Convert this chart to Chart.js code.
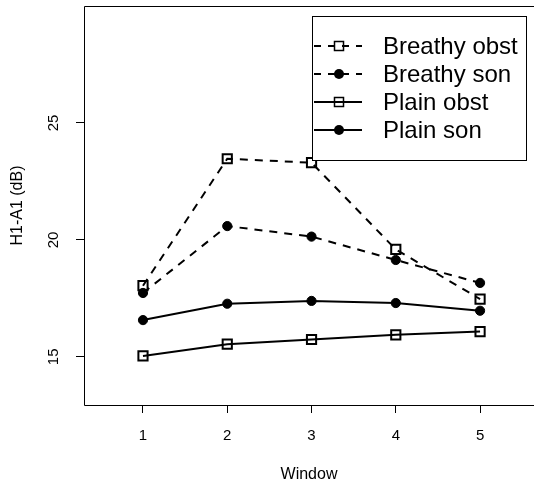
<!DOCTYPE html>
<html>
<head>
<meta charset="utf-8">
<script src="https://cdn.jsdelivr.net/npm/chart.js@4/dist/chart.umd.min.js"></script>
<style>
  html, body { margin: 0; padding: 0; background: #fff; overflow: hidden; }
  #wrap { width: 534px; height: 487px; }
</style>
</head>
<body>
<div id="wrap"><canvas id="chart" width="534" height="487"></canvas></div>
<script>
const windows = [1, 2, 3, 4, 5];
const breathyObst = [18.04, 23.47, 23.30, 19.59, 17.47];
const breathySon = [17.73, 20.59, 20.14, 19.14, 18.16];
const plainObst = [15.04, 15.54, 15.74, 15.94, 16.08];
const plainSon = [16.57, 17.27, 17.39, 17.30, 16.97];
const xTicks = [1, 2, 3, 4, 5];
const yTicks = [15, 20, 25];

const seriesNames = ['Breathy obst', 'Breathy son', 'Plain obst', 'Plain son'];
const FONT = '"Liberation Sans", Arial, Helvetica, sans-serif';
const DASH = [8, 7];

function series(label, values, dashed, shape) {
  const square = shape === 'rect';
  return {
    label: label,
    data: windows.map((w, i) => ({ x: w, y: values[i] })),
    borderColor: '#000',
    borderWidth: 2,
    borderDash: dashed ? DASH : [],
    pointStyle: shape,
    pointRadius: square ? 6.5 : 4.6,
    pointBorderWidth: square ? 2 : 1,
    pointBorderColor: '#000',
    pointBackgroundColor: square ? 'rgba(0,0,0,0)' : '#000',
    tension: 0,
    fill: false
  };
}

const datasets = [
  series(seriesNames[0], breathyObst, true, 'rect'),
  series(seriesNames[1], breathySon, true, 'circle'),
  series(seriesNames[2], plainObst, false, 'rect'),
  series(seriesNames[3], plainSon, false, 'circle')
];

// open box round the plot region (its right side falls off the canvas)
// plus the boxed legend in the top right corner
const frame = {
  id: 'frame',
  afterDraw(chart) {
    const { ctx, chartArea: a } = chart;
    ctx.save();
    ctx.strokeStyle = '#000';
    ctx.lineWidth = 1;
    const l = Math.round(a.left) + 0.5, t = Math.round(a.top) + 0.5, b = Math.round(a.bottom) + 0.5;
    ctx.beginPath();
    ctx.moveTo(chart.width, t);
    ctx.lineTo(l, t);
    ctx.lineTo(l, b);
    ctx.lineTo(chart.width, b);
    ctx.stroke();

    const bx = 312, by = 16, bw = 214, bh = 144;
    ctx.fillStyle = '#fff';
    ctx.fillRect(bx, by, bw, bh);
    ctx.strokeRect(bx + 0.5, by + 0.5, bw, bh);

    ctx.font = '24px ' + FONT;
    ctx.textBaseline = 'middle';
    ctx.textAlign = 'left';
    datasets.forEach((ds, i) => {
      const y = 46 + i * 28;
      ctx.strokeStyle = '#000';
      ctx.lineWidth = 2;
      ctx.setLineDash(ds.borderDash.length ? [7, 7] : []);
      ctx.beginPath();
      ctx.moveTo(314, y);
      ctx.lineTo(362, y);
      ctx.stroke();
      ctx.setLineDash([]);
      ctx.lineWidth = 1.5;
      if (ds.pointStyle === 'rect') {
        ctx.strokeRect(334.5, y - 4.5, 9, 9);
      } else {
        ctx.fillStyle = '#000';
        ctx.beginPath();
        ctx.arc(339, y, 5, 0, Math.PI * 2);
        ctx.fill();
      }
      ctx.fillStyle = '#000';
      ctx.fillText(ds.label, 383, y + 1);
    });
    ctx.restore();
  }
};

new Chart(document.getElementById('chart'), {
  type: 'line',
  data: { datasets: datasets },
  options: {
    responsive: false,
    animation: false,
    layout: { autoPadding: false, padding: { top: 6, left: 0, right: 0, bottom: 0 } },
    plugins: { legend: { display: false }, tooltip: { enabled: false } },
    scales: {
      x: {
        type: 'linear',
        min: 0.3,
        max: 5.64,
        afterBuildTicks: s => { s.ticks = xTicks.map(v => ({ value: v })); },
        afterFit: s => { s.height = 82; s.paddingLeft = 0; s.paddingRight = 0; },
        grid: { drawOnChartArea: false, tickLength: 8, color: '#000', lineWidth: 1 },
        border: { display: false },
        ticks: { color: '#000', font: { family: FONT, size: 15 }, padding: 14, maxRotation: 0 },
        title: {
          display: true, text: 'Window', color: '#000',
          font: { family: FONT, size: 16 }, padding: { top: 0, bottom: 3 }
        }
      },
      y: {
        type: 'linear',
        min: 12.94,
        max: 30,
        afterBuildTicks: s => { s.ticks = yTicks.map(v => ({ value: v })); },
        afterFit: s => { s.width = 84; s.paddingTop = 0; s.paddingBottom = 0; },
        grid: { drawOnChartArea: false, tickLength: 8, color: '#000', lineWidth: 1 },
        border: { display: false },
        ticks: {
          color: '#000', font: { family: FONT, size: 15 },
          minRotation: 90, maxRotation: 90, crossAlign: 'center', padding: 14
        },
        title: {
          display: true, text: 'H1-A1 (dB)', color: '#000',
          font: { family: FONT, size: 16 }, padding: { top: 8, bottom: 0 }
        }
      }
    }
  },
  plugins: [frame]
});
</script>
</body>
</html>
